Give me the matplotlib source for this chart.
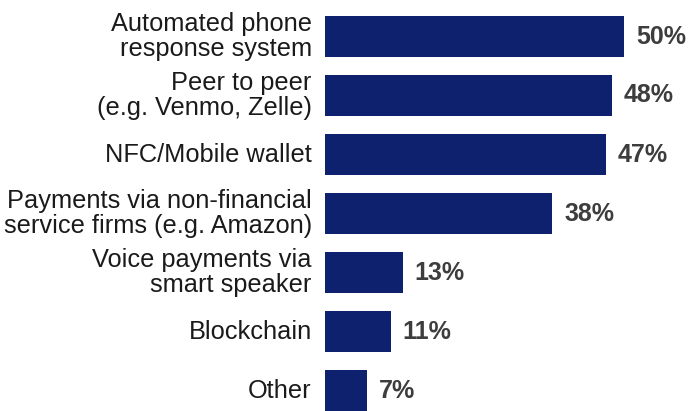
import matplotlib
matplotlib.use("Agg")
import matplotlib.pyplot as plt

categories = [
    "Automated phone\nresponse system",
    "Peer to peer\n(e.g. Venmo, Zelle)",
    "NFC/Mobile wallet",
    "Payments via non-financial\nservice firms (e.g. Amazon)",
    "Voice payments via\nsmart speaker",
    "Blockchain",
    "Other",
]
values = [50, 48, 47, 38, 13, 11, 7]

bar_color = "#0e216e"
value_color = "#3d3d3d"

plt.rcParams["font.family"] = ["Liberation Sans", "DejaVu Sans"]

W, H = 689, 411
fig = plt.figure(figsize=(W / 100, H / 100), dpi=100)
left_px = 325
ax = fig.add_axes([left_px / W, 0, 1 - left_px / W, 1])

px_per_unit = 299 / 50
ax.set_xlim(0, (W - left_px) / px_per_unit)
pitch = 59
c0 = 36.5
ax.set_ylim((H - c0) / pitch, -c0 / pitch)

ypos = list(range(len(categories)))
ax.barh(ypos, values, height=0.695, color=bar_color)

for y, v, lab in zip(ypos, values, categories):
    ax.annotate(f"{v}%", xy=(v, y), xytext=(8.5, 0), textcoords="offset points",
                ha="left", va="center", fontsize=18, fontweight="bold",
                color=value_color)
    ax.annotate(lab, xy=(0, y), xytext=(-9.5, 0), textcoords="offset points",
                ha="right", va="center", fontsize=18.3, color="#1a1a1a",
                linespacing=1.07, annotation_clip=False)

ax.axis("off")
fig.savefig("out.png", dpi=100)
